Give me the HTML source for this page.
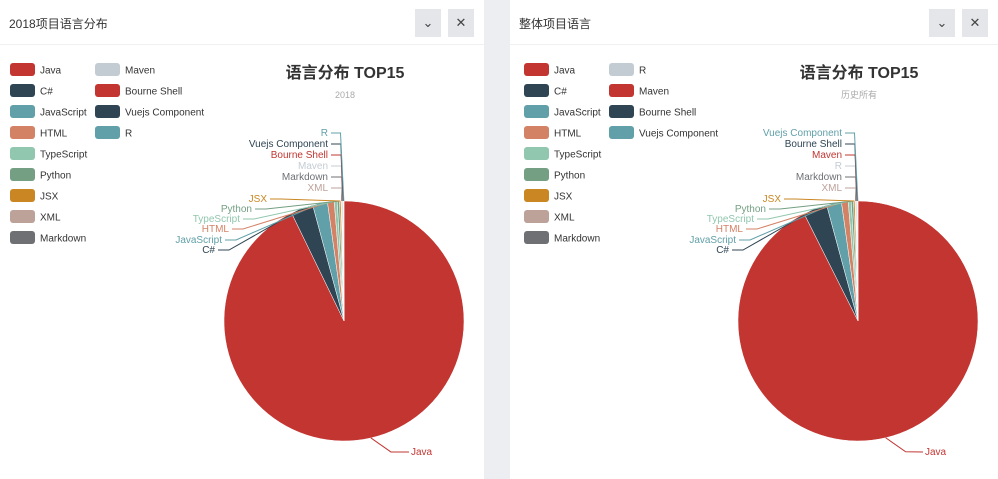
<!DOCTYPE html>
<html><head><meta charset="utf-8">
<style>
body{margin:0;width:998px;height:479px;background:#eceef1;overflow:hidden;font-family:"Liberation Sans","Noto Sans CJK SC",sans-serif;}
.panel{position:absolute;top:0;height:479px;background:#fff;}
.hdr{position:absolute;left:0;right:0;top:0;height:44px;border-bottom:1px solid #eef0f2;}
.ttl{position:absolute;left:9px;top:15px;font-size:12px;color:#333;}
.btn{position:absolute;top:9px;width:26px;height:28px;background:#e4e6e9;color:#444;font-size:13px;text-align:center;line-height:28px;}
svg{position:absolute;left:0;top:0;}
</style></head><body>
<div class="panel" style="left:0;width:484px;">
 <div class="hdr">
  <div class="ttl">2018项目语言分布</div>
  <div class="btn" style="left:415px">⌄</div>
  <div class="btn" style="left:448px">✕</div>
 </div>
</div>
<div class="panel" style="left:510px;width:488px;">
 <div class="hdr">
  <div class="ttl">整体项目语言</div>
  <div class="btn" style="left:419px">⌄</div>
  <div class="btn" style="left:452px">✕</div>
 </div>
</div>
<svg id="chart" width="998" height="479"></svg>
<script>
const namesA=["Java","C#","JavaScript","HTML","TypeScript","Python","JSX","XML","Markdown","Maven","Bourne Shell","Vuejs Component","R"];
const valuesA=[92.8,3.0,2.0,0.9,0.4,0.3,0.2,0.1,0.1,0.05,0.05,0.05,0.05];
const namesB=["Java","C#","JavaScript","HTML","TypeScript","Python","JSX","XML","Markdown","R","Maven","Bourne Shell","Vuejs Component"];
const valuesB=[92.5,3.2,2.0,0.9,0.4,0.3,0.2,0.1,0.1,0.05,0.05,0.05,0.05];
const subA="2018";
const subB="历史所有";
const palette=["#c23531","#2f4554","#61a0a8","#d48265","#91c7ae","#749f83","#ca8622","#bda29a","#6e7074","#c4ccd3"];
// label layout (positions, not data): [textEndX, y] relative to panel origin
const labelLayout=[[411,455,"start"],[215,253],[222,243],[229,232],[240,222],[252,212],[267,202],[328,191],[328,180],[328,169],[328,158],[328,147],[328,136]];
const NS="http://www.w3.org/2000/svg";
const svg=document.getElementById('chart');
function mk(t,a,p){const e=document.createElementNS(NS,t);for(const k in a)e.setAttribute(k,a[k]);(p||svg).appendChild(e);return e;}
function drawPanel(ox,names,values,sub){
 const g=mk('g',{transform:`translate(${ox},0)`});
 
 
 // legend
 names.forEach((n,i)=>{
  const col=i<9?0:1,row=i<9?i:i-9;
  const x=10+col*85,y=63+row*21;
  const r=mk('rect',{x:x,y:y,width:25,height:13,rx:3,fill:palette[i%10]},g);
  
  
  const t=mk('text',{x:x+30,y:y+10.5,'font-size':10,fill:'#333'},g);t.textContent=n;
  
  
 });
 const tt=mk('text',{x:345,y:78,'font-size':16,'font-weight':'bold','text-anchor':'middle',fill:'#333'},g);tt.textContent="语言分布 TOP15";
 
 
 const st=mk('text',{x:345,y:98,'font-size':9,'text-anchor':'middle',fill:'#aaa'},g);st.textContent=sub;
 
 
 const cx=344,cy=321,R=120;
 const total=values.reduce((a,b)=>a+b,0);
 let a0=0;
 values.forEach((v,i)=>{
  const a1=a0+v/total*2*Math.PI;
  const p=(a)=>[cx+R*Math.sin(a),cy-R*Math.cos(a)];
  const [x0,y0]=p(a0),[x1,y1]=p(a1);
  const large=(a1-a0)>Math.PI?1:0;
  const s=mk('path',{d:`M${cx},${cy}L${x0},${y0}A${R},${R} 0 ${large} 1 ${x1},${y1}Z`,fill:palette[i%10],stroke:'#fff','stroke-width':0.5},g);
  
  
  const am=(a0+a1)/2;const [mx,my]=p(am);
  const L=labelLayout[i];const c=palette[i%10];
  let pts;
  if(i===0){pts=`${mx},${my} ${mx+20},${my+14} ${L[0]-2},${L[1]-3}`;}
  else if(i>=7){pts=`${L[0]+3},${L[1]-3} ${342-(i-7)*0.3},${L[1]-3} ${mx},${my}`;}
  else{pts=`${L[0]+3},${L[1]-3} ${L[0]+14},${L[1]-3} ${mx},${my}`;}
  const ln=mk('polyline',{points:pts,fill:'none',stroke:c,'stroke-width':1},g);
  
  
  const lt=mk('text',{x:L[0],y:L[1],'font-size':10,fill:c,'text-anchor':L[2]||'end'},g);lt.textContent=names[i];
  
  
  a0=a1;
 });
}
drawPanel(0,namesA,valuesA,subA);
drawPanel(514,namesB,valuesB,subB);
</script>
</body></html>
